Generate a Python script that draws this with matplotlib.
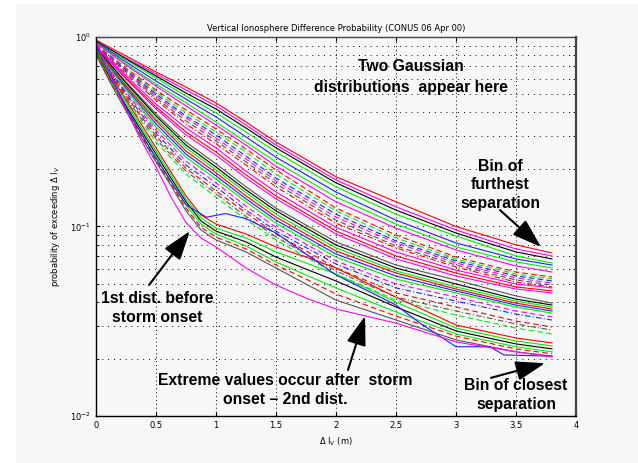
import matplotlib
matplotlib.use("Agg")
import matplotlib.pyplot as plt
from matplotlib.patches import Rectangle
from matplotlib.ticker import FixedLocator, LogLocator, NullFormatter

# Probability of exceeding the vertical ionosphere difference, sampled at these offsets (m)
dI = [0, 0.25, 0.5, 0.75, 1.0, 1.25, 1.5, 2.0, 2.5, 3.0, 3.5, 3.8]
# finer sampling for the bins that bend sharply near 0.8 m
dI_fine = [0, 0.125, 0.25, 0.375, 0.5, 0.625, 0.75, 0.875, 1.0, 1.25, 1.5, 1.75, 2.0,
           2.5, 3.0, 3.5, 3.8]

# bins of furthest separation (solid)
upper_solid = [
    [0.964, 0.794, 0.654, 0.544, 0.449, 0.356, 0.279, 0.183, 0.135, 0.100, 0.080, 0.0725],
    [0.952, 0.775, 0.638, 0.525, 0.433, 0.343, 0.269, 0.176, 0.127, 0.0958, 0.0761, 0.0699],
    [0.952, 0.766, 0.623, 0.506, 0.417, 0.331, 0.260, 0.170, 0.122, 0.0924, 0.0734, 0.0674],
    [0.941, 0.756, 0.608, 0.488, 0.398, 0.315, 0.247, 0.162, 0.116, 0.0891, 0.0699, 0.0642],
    [0.941, 0.738, 0.586, 0.470, 0.379, 0.297, 0.232, 0.152, 0.108, 0.0819, 0.0674, 0.0626],
    [0.930, 0.720, 0.565, 0.449, 0.356, 0.279, 0.219, 0.143, 0.103, 0.0780, 0.0650, 0.0604],
    [0.930, 0.711, 0.551, 0.433, 0.343, 0.269, 0.208, 0.135, 0.098, 0.0752, 0.0619, 0.0575],
]
upper_dashed = [
    [0.918, 0.686, 0.525, 0.412, 0.327, 0.256, 0.199, 0.125, 0.0902, 0.0690, 0.0575, 0.0541],
    [0.918, 0.678, 0.512, 0.398, 0.315, 0.247, 0.189, 0.121, 0.0870, 0.0674, 0.0561, 0.0528],
    [0.907, 0.670, 0.500, 0.383, 0.304, 0.235, 0.180, 0.116, 0.0839, 0.0658, 0.0548, 0.0516],
    [0.907, 0.662, 0.488, 0.374, 0.293, 0.227, 0.174, 0.112, 0.0819, 0.0642, 0.0535, 0.0503],
    [0.896, 0.654, 0.476, 0.361, 0.283, 0.219, 0.168, 0.108, 0.0790, 0.0626, 0.0522, 0.0491],
    [0.896, 0.638, 0.465, 0.348, 0.273, 0.211, 0.162, 0.104, 0.0771, 0.0611, 0.0509, 0.0480],
]
mid_solid = [
    [0.896, 0.623, 0.443, 0.331, 0.260, 0.196, 0.152, 0.099, 0.0734, 0.0589, 0.0497, 0.0474],
    [0.886, 0.608, 0.428, 0.315, 0.247, 0.187, 0.145, 0.0946, 0.0699, 0.0568, 0.0480, 0.0457],
    [0.886, 0.600, 0.417, 0.304, 0.238, 0.180, 0.140, 0.0913, 0.0674, 0.0548, 0.0468, 0.0446],
    [0.875, 0.579, 0.393, 0.279, 0.214, 0.162, 0.125, 0.0829, 0.0626, 0.0522, 0.0430, 0.0394],
    [0.875, 0.572, 0.383, 0.269, 0.206, 0.156, 0.121, 0.0799, 0.0604, 0.0497, 0.0414, 0.0385],
    [0.864, 0.558, 0.370, 0.260, 0.199, 0.151, 0.116, 0.0771, 0.0582, 0.0480, 0.0404, 0.0376],
    [0.864, 0.551, 0.361, 0.250, 0.192, 0.145, 0.112, 0.0743, 0.0568, 0.0468, 0.0394, 0.0367],
    [0.854, 0.538, 0.348, 0.241, 0.185, 0.140, 0.108, 0.0716, 0.0548, 0.0457, 0.0385, 0.0358],
    [0.854, 0.525, 0.335, 0.232, 0.178, 0.135, 0.104, 0.0690, 0.0528, 0.0446, 0.0376, 0.0349],
]
lower_dashed = [
    [0.844, 0.512, 0.323, 0.221, 0.170, 0.128, 0.099, 0.0658, 0.0497, 0.0424, 0.0358, 0.0333],
    [0.844, 0.500, 0.311, 0.211, 0.162, 0.122, 0.0946, 0.0634, 0.0474, 0.0404, 0.0345, 0.0321],
    [0.833, 0.488, 0.300, 0.203, 0.154, 0.118, 0.0913, 0.0604, 0.0446, 0.0376, 0.0317, 0.0295],
    [0.833, 0.476, 0.290, 0.196, 0.149, 0.113, 0.0880, 0.0582, 0.0424, 0.0358, 0.0306, 0.0284],
    [0.824, 0.465, 0.279, 0.189, 0.143, 0.109, 0.0849, 0.0561, 0.0409, 0.0341, 0.0291, 0.0271],
]
# bins of closest separation (on dI_fine)
lower_solid = [
    [0.854, 0.623, 0.465, 0.348, 0.260, 0.194, 0.145, 0.115, 0.103, 0.0913, 0.0780, 0.0690,
     0.0604, 0.0424, 0.0302, 0.0258, 0.0243],
    [0.844, 0.608, 0.449, 0.335, 0.250, 0.187, 0.140, 0.111, 0.098, 0.0870, 0.0734, 0.0642,
     0.0561, 0.0399, 0.0291, 0.0249, 0.0234],
    [0.833, 0.593, 0.433, 0.323, 0.241, 0.180, 0.135, 0.107, 0.0946, 0.0829, 0.0690, 0.0596,
     0.0516, 0.0376, 0.0281, 0.0240, 0.0226],
    [0.824, 0.579, 0.422, 0.311, 0.232, 0.174, 0.130, 0.103, 0.0913, 0.0790, 0.0650, 0.0555,
     0.0474, 0.0354, 0.0271, 0.0232, 0.0218],
    [0.814, 0.572, 0.412, 0.304, 0.224, 0.168, 0.125, 0.099, 0.0880, 0.0761, 0.0626, 0.0528,
     0.0440, 0.0337, 0.0264, 0.0226, 0.0213],
    [0.804, 0.565, 0.407, 0.297, 0.219, 0.164, 0.121, 0.0958, 0.0849, 0.0734, 0.0604, 0.0497,
     0.0409, 0.0321, 0.0252, 0.0218, 0.0207],
]
# extreme values after storm onset (on dI_fine)
extreme_p = [0.941, 0.608, 0.412, 0.286, 0.206, 0.143, 0.105, 0.0870, 0.0780, 0.0604, 0.0491,
             0.0419, 0.0367, 0.0309, 0.0246, 0.0218, 0.0205]
# sparse bin with steps in its tail
stair_dI = [0, 0.25, 0.5, 0.75, 0.92, 1.08, 1.25, 1.5, 2.0, 2.5, 2.7, 3.0, 3.28, 3.4, 3.8]
stair_p = [0.907, 0.422, 0.229, 0.130, 0.112, 0.117, 0.110, 0.0924, 0.0555, 0.0385,
           0.0309, 0.0232, 0.0232, 0.0210, 0.0207]

RED, GRN, BLU, MAG, BLK, GRY = "#ff0000", "#00ee00", "#2020ff", "#ff00ff", "#000000", "#555555"
DASH = (0, (5, 3))
DASHDOT = (0, (5, 2, 1, 2))

bg = "#f7f7f7"
fig = plt.figure(figsize=(6.38, 4.63), dpi=100, facecolor=bg)
fig.add_artist(Rectangle((0, 0), 15 / 638, 1, transform=fig.transFigure, color="white", zorder=-5))
fig.add_artist(Rectangle((0, 1 - 3 / 463), 1, 3 / 463, transform=fig.transFigure, color="white", zorder=-5))
ax = fig.add_axes([96 / 638, 1 - 416 / 463, 480 / 638, 379 / 463], facecolor=bg)
ax.set_yscale("log")

lw = 0.8
for p, c in zip(upper_solid, [RED, MAG, BLK, GRN, BLU, GRN, MAG]):
    ax.plot(dI, p, color=c, lw=lw)
for p, c, ls in zip(upper_dashed, [RED, GRN, BLU, MAG, GRY, RED],
                    [DASH, DASH, DASH, DASH, DASH, DASHDOT]):
    ax.plot(dI, p, color=c, lw=lw, ls=ls)
for p, c in zip(mid_solid, [MAG, RED, MAG, GRY, BLK, GRN, RED, BLU, GRN]):
    ax.plot(dI, p, color=c, lw=lw)
for p, c, ls in zip(lower_dashed, [MAG, BLU, RED, GRY, GRN],
                    [DASH, DASHDOT, DASH, DASHDOT, DASH]):
    ax.plot(dI, p, color=c, lw=lw, ls=ls)
for p, c, ls in zip(lower_solid, [RED, GRN, BLK, GRN, RED, GRY],
                    ["-", "-", "-", "-", DASH, "-"]):
    ax.plot(dI_fine, p, color=c, lw=lw, ls=ls)
ax.plot(stair_dI, stair_p, color=BLU, lw=lw)
ax.plot(dI_fine, extreme_p, color=MAG, lw=lw)

ax.set_xlim(0, 4)
ax.set_ylim(0.01, 1)
ax.xaxis.set_major_locator(FixedLocator([0, 0.5, 1, 1.5, 2, 2.5, 3, 3.5, 4]))
ax.set_xticklabels(["0", "0.5", "1", "1.5", "2", "2.5", "3", "3.5", "4"])
ax.yaxis.set_major_locator(FixedLocator([0.01, 0.1, 1]))
ax.set_yticklabels([r"$10^{-2}$", r"$10^{-1}$", r"$10^{0}$"])
ax.yaxis.set_minor_locator(LogLocator(base=10, subs=range(2, 10)))
ax.yaxis.set_minor_formatter(NullFormatter())
ax.tick_params(which="both", direction="in", top=True, right=True, labelsize=6, length=3)
ax.tick_params(which="minor", length=2)
ax.grid(True, which="major", axis="x", color="k", ls=(0, (1, 3)), lw=0.7)
ax.grid(True, which="both", axis="y", color="k", ls=(0, (1, 5)), lw=0.7)
for s in ax.spines.values():
    s.set_linewidth(1.0)
ax.spines["top"].set_color("#444444")
ax.spines["right"].set_color("#444444")
ax.spines["right"].set_linewidth(1.6)

ax.set_title("Vertical Ionosphere Difference Probability (CONUS 06 Apr 00)", fontsize=6, pad=4)
ax.set_xlabel(r"Δ I$_V$ (m)", fontsize=6, labelpad=4)
ax.set_ylabel(r"probability of exceeding Δ I$_V$", fontsize=6, labelpad=6)

note = dict(fontsize=11.3, fontweight="bold", family="Liberation Sans", ha="center", va="center")
arrow = dict(arrowstyle="-|>,head_length=0.9,head_width=0.3", mutation_scale=20,
             color="k", lw=1.5, shrinkA=0, shrinkB=0)

ax.text(2.625, 0.615, "Two Gaussian\ndistributions  appear here", linespacing=1.45, **note)
ax.annotate("", xy=(3.708, 0.078), xytext=(3.367, 0.122), arrowprops=arrow)
ax.text(3.367, 0.166, "Bin of\nfurthest\nseparation", linespacing=1.3, **note)
ax.annotate("", xy=(0.783, 0.0947), xytext=(0.442, 0.0491), arrowprops=arrow)
ax.text(0.508, 0.0371, "1st dist. before\nstorm onset", linespacing=1.3, **note)
ax.annotate("", xy=(2.242, 0.0337), xytext=(2.1, 0.0175), arrowprops=arrow)
ax.text(1.575, 0.0137, "Extreme values occur after  storm\nonset – 2nd dist.", linespacing=1.3, **note)
ax.annotate("", xy=(3.742, 0.019), xytext=(3.292, 0.0159), arrowprops=arrow)
ax.text(3.5, 0.0129, "Bin of closest\nseparation", linespacing=1.3, **note)

fig.savefig("out.png", dpi=100, facecolor=bg)
